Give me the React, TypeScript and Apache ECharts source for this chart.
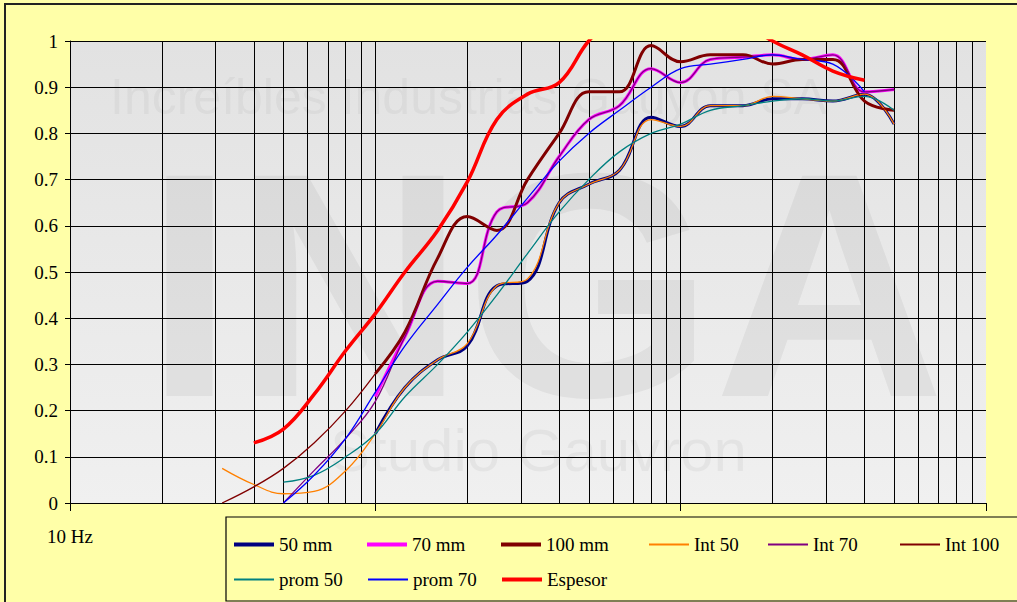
import React, { useEffect, useRef } from "react";
import * as echarts from "echarts";

const freqs = [31.5, 40, 50, 63, 80, 100, 125, 160, 200, 250, 315, 400, 500, 630, 800, 1000, 1250, 1600, 2000, 2500, 3150, 4000, 5000];
const N = null;
const s50mm = [N, N, N, N, N, 0.15, 0.25, 0.31, 0.34, 0.47, 0.48, 0.65, 0.69, 0.72, 0.835, 0.815, 0.86, 0.86, 0.875, 0.875, 0.87, 0.885, 0.82];
const s70mm = [N, N, N, N, N, 0.23, 0.36, 0.48, 0.475, 0.63, 0.65, 0.75, 0.83, 0.86, 0.94, 0.91, 0.96, 0.965, 0.97, 0.96, 0.97, 0.89, 0.895];
const s100mm = [N, N, N, N, N, 0.28, 0.37, 0.53, 0.62, 0.59, 0.70, 0.80, 0.89, 0.89, 0.99, 0.955, 0.97, 0.97, 0.95, 0.96, 0.96, 0.87, 0.85];
const int50 = [0.075, 0.04, 0.02, 0.025, 0.07, 0.15, 0.25, 0.31, 0.345, 0.47, 0.485, 0.65, 0.69, 0.72, 0.83, 0.815, 0.86, 0.86, 0.88, 0.875, 0.87, 0.885, 0.82];
const int70 = [N, N, 0.0, 0.07, 0.14, 0.22, 0.36, 0.48, 0.475, 0.63, 0.65, 0.75, 0.83, 0.86, 0.94, 0.91, 0.96, 0.965, 0.97, 0.96, 0.97, 0.89, 0.895];
const int100 = [0.0, 0.035, 0.075, 0.13, 0.2, 0.28, 0.37, 0.53, 0.62, 0.59, 0.70, 0.80, 0.89, 0.89, 0.99, 0.955, 0.97, 0.97, 0.95, 0.96, 0.96, 0.87, 0.85];
const prom50 = [N, N, 0.045, 0.06, 0.1, 0.15, 0.23, 0.3, 0.37, 0.45, 0.54, 0.63, 0.7, 0.76, 0.8, 0.82, 0.85, 0.86, 0.87, 0.875, 0.87, 0.88, 0.85];
const prom70 = [N, N, 0.0, 0.06, 0.14, 0.24, 0.34, 0.43, 0.51, 0.58, 0.66, 0.74, 0.8, 0.85, 0.9, 0.94, 0.95, 0.96, 0.97, 0.96, 0.95, 0.89, N];
const espesor = [N, 0.13, 0.16, 0.235, 0.33, 0.41, 0.5, 0.59, 0.695, 0.83, 0.885, 0.91, 1.0, 1.06, 1.1, 1.1, 1.08, 1.04, 1.0, 0.97, 0.935, 0.915, N];
const gridFreqs = [20, 30, 40, 50, 60, 70, 80, 90, 100, 200, 300, 400, 500, 600, 700, 800, 900, 1000, 2000, 3000, 4000, 5000, 6000, 7000, 8000, 9000];

const seriesDefs = [
  { name: "50 mm", data: s50mm, color: "#000080", width: 3 },
  { name: "70 mm", data: s70mm, color: "#FF00FF", width: 3 },
  { name: "100 mm", data: s100mm, color: "#800000", width: 3 },
  { name: "Int 50", data: int50, color: "#FF8000", width: 1.3 },
  { name: "Int 70", data: int70, color: "#800080", width: 1.3 },
  { name: "Int 100", data: int100, color: "#800000", width: 1.3 },
  { name: "prom 50", data: prom50, color: "#008080", width: 1.3 },
  { name: "prom 70", data: prom70, color: "#0000FF", width: 1.3 },
  { name: "Espesor", data: espesor, color: "#FF0000", width: 3.5 },
];
const legendLeft = [234, 367, 501, 649, 768, 900, 234, 368, 502];
const legendTop = [535, 535, 535, 535, 535, 535, 570, 570, 570];

export default function App() {
  const ref = useRef<HTMLDivElement>(null);
  useEffect(() => {
    document.body.style.margin = "0";
    const chart = echarts.init(ref.current!, null, { renderer: "svg" });
    const font = "serif";
    const series: any[] = seriesDefs.map((s) => ({
      type: "line",
      name: s.name,
      data: freqs.map((f, i) => [f, s.data[i]]),
      smooth: 0.4,
      showSymbol: false,
      connectNulls: false,
      lineStyle: { color: s.color, width: s.width },
      itemStyle: { color: s.color },
      z: 5,
    }));
    series.unshift({
      type: "line",
      name: "grid",
      data: [],
      silent: true,
      z: 2,
      markLine: {
        silent: true,
        symbol: "none",
        label: { show: false },
        lineStyle: { color: "#000", width: 1, type: "solid" },
        data: gridFreqs.map((f) => ({ xAxis: f })),
      },
    });
    const legends = seriesDefs.map((s, i) => ({
      data: [s.name], left: legendLeft[i], top: legendTop[i],
      itemWidth: 40, itemHeight: s.width > 2 ? 4 : 2, icon: "rect", padding: 0,
      textStyle: { fontSize: 19, fontFamily: font, color: "#000" },
    }));
    chart.setOption({
      animation: false,
      textStyle: { fontFamily: font },
      grid: {
        left: 70, top: 41, width: 916, height: 462,
        show: true, borderWidth: 0,
        backgroundColor: new echarts.graphic.LinearGradient(0, 0, 0, 1, [
          { offset: 0, color: "#e2e2e2" },
          { offset: 1, color: "#f0f0f0" },
        ]),
      },
      xAxis: {
        type: "log", logBase: 10, min: 10, max: 10000,
        axisLine: { show: true, lineStyle: { color: "#000" } },
        axisTick: { show: true, length: 8, lineStyle: { color: "#000" } },
        splitLine: { show: false },
        axisLabel: {
          formatter: (v: number) => (Math.abs(v - 10) < 0.01 ? "10 Hz" : ""),
          color: "#000", fontSize: 19, fontFamily: font, margin: 24,
        },
      },
      yAxis: {
        type: "value", min: 0, max: 1, interval: 0.1,
        axisLine: { show: true, lineStyle: { color: "#000" } },
        axisTick: { show: true, length: 5, lineStyle: { color: "#000" } },
        splitLine: { show: true, lineStyle: { color: "#000", width: 1 } },
        axisLabel: {
          formatter: (v: number) => String(Math.round(v * 10) / 10),
          color: "#000", fontSize: 19, fontFamily: font, margin: 12,
        },
      },
      legend: legends,
      graphic: [
        { type: "rect", silent: true, z: 100, shape: { x: 226, y: 517, width: 800, height: 84 }, style: { fill: "none", stroke: "#000", lineWidth: 1.2 } },
        { type: "text", silent: true, z: 3, left: 110, top: 72, style: { text: "Increíbles Industrias Gauyon SA", fontSize: 50, fontFamily: "sans-serif", fill: "rgba(0,0,0,0.04)" } },
        { type: "text", silent: true, z: 3, left: 145, top: 125, style: { text: "INGA", fontSize: 320, fontWeight: "bold", fontFamily: "sans-serif", fill: "rgba(0,0,0,0.05)" } },
        { type: "text", silent: true, z: 3, left: 330, top: 420, style: { text: "Studio Gauvron", fontSize: 60, fontFamily: "sans-serif", fill: "rgba(0,0,0,0.045)" } },
      ],
      series,
    });
    return () => chart.dispose();
  }, []);
  return (
    <div style={{ width: 1017, height: 602, position: "relative", background: "#FFFFA8", overflow: "hidden" }}>
      <div style={{ position: "absolute", left: 4, top: 3, width: 1030, height: 640, border: "2px solid #222", boxSizing: "border-box" }} />
      <div ref={ref} style={{ width: 1017, height: 602, position: "absolute", left: 0, top: 0 }} />
    </div>
  );
}
